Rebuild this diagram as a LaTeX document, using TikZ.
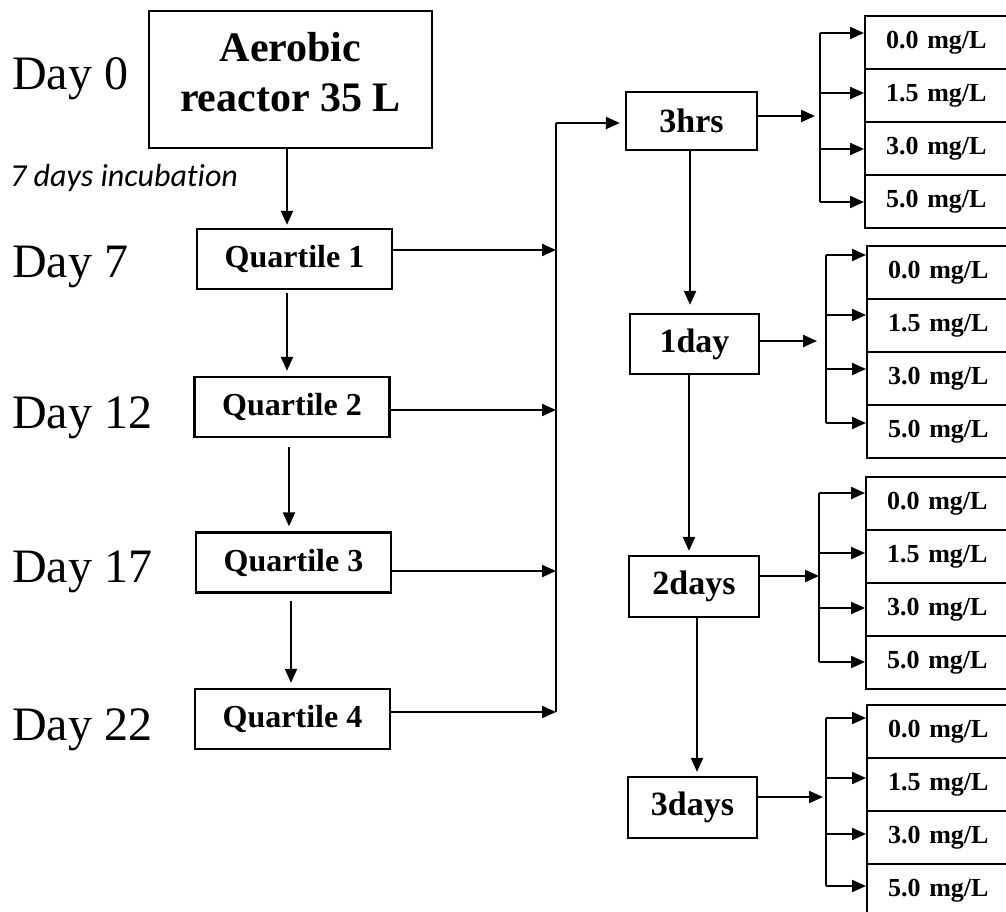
\documentclass[tikz,border=0pt]{standalone}
\usepackage{fontspec}
\setmainfont{Liberation Serif}
\newfontfamily\incfont[Ligatures=NoCommon]{Carlito}
\usetikzlibrary{arrows.meta}
\begin{document}
\begin{tikzpicture}[x=1pt,y=-1pt,
  box/.style={draw, line width=2.3pt, inner sep=0pt},
  qbox/.style={box, minimum width=195pt, minimum height=60pt,
    font=\bfseries\fontsize{32}{38}\selectfont},
  tbox/.style={box, minimum width=130pt, minimum height=60pt,
    font=\bfseries\fontsize{34}{40}\selectfont},
  mg/.style={box, anchor=north west, minimum width=160pt, minimum height=53pt,
    text width=118pt, inner xsep=21pt, align=left,
    font=\bfseries\fontsize{26}{30}\selectfont},
  day/.style={anchor=base west, inner sep=0pt, font=\fontsize{48}{52}\selectfont},
  arr/.style={line width=2.2pt, -{Triangle[length=14pt,width=12pt]}},
  link/.style={line width=1.8pt}
]
\useasboundingbox (0,0) rectangle (1006,912);
\fill[white] (0,0) rectangle (1006,912);

% day labels
\node[day] (day0) at (12,90) {Day 0};
\node[day] (day7) at (12,277) {Day 7};
\node[day] (day12) at (12,428) {Day 12};
\node[day] (day17) at (12,582) {Day 17};
\node[day] (day22) at (12,740) {Day 22};
\node[anchor=base west, inner sep=0pt, font=\incfont\itshape\fontsize{32}{36}\selectfont]
  (incub) at (10,187) {7 days incubation};

% reactor and quartiles
\node[box, line width=2.8pt, minimum width=283pt, minimum height=137pt] (aer) at (290.5,79.5) {};
\node[align=center, inner sep=0pt, font=\bfseries\fontsize{42}{50}\selectfont]
  (aerlbl) at (290.5,72) {Aerobic\\reactor 35 L};
\node[qbox] (q1) at (294.5,259) {Quartile 1};
\node[qbox] (q2) at (292,407) {Quartile 2};
\node[qbox] (q3) at (293.5,562.5) {Quartile 3};
\node[qbox] (q4) at (292.5,719) {Quartile 4};

\draw[arr, shorten >=3pt] (aer.south -| 287,0) -- (q1.north -| 287,0);
\draw[arr, shorten >=5pt, shorten <=3pt] (q1.south -| 287,0) -- (q2.north -| 287,0);
\draw[arr, shorten >=5pt, shorten <=9pt] (q2.south -| 289,0) -- (q3.north -| 289,0);
\draw[arr, shorten >=5pt, shorten <=7pt] (q3.south -| 291,0) -- (q4.north -| 291,0);

% collecting bus
\coordinate (bustop) at (556,123);
\coordinate (busbot) at (556,712);
\draw[arr] (q1.east |- 0,250) -- (bustop |- 0,250);
\draw[arr] (q2.east |- 0,410) -- (bustop |- 0,410);
\draw[arr] (q3.east |- 0,571) -- (bustop |- 0,571);
\draw[arr] (q4.east |- 0,712) -- (busbot);

% sampling times
\node[tbox, minimum width=131pt, minimum height=58pt] (h3) at (691.5,121) {3hrs};
\node[tbox, minimum width=129pt] (d1) at (694.5,344) {1day};
\node[tbox, minimum height=61pt] (d2) at (694,586.5) {2days};
\node[tbox, minimum width=129pt, minimum height=61pt] (d3) at (692.5,807.5) {3days};

\draw[link] (busbot) -- (bustop);
\draw[arr, shorten >=5pt] (bustop) -- (h3.west |- bustop);

\draw[arr, shorten >=8pt] (h3.south -| 690,0) -- (d1.north -| 690,0);
\draw[arr, shorten >=4pt] (d1.south -| 689,0) -- (d2.north -| 689,0);
\draw[arr, shorten >=4pt] (d2.south -| 697,0) -- (d3.north -| 697,0);

% concentration boxes
\foreach \g/\x/\t in {1/864/15, 2/866/245, 3/865/476, 4/866/704} {
  \foreach \v [count=\k from 0] in {0.0,1.5,3.0,5.0}
    \node[mg] (m\g-\k) at (\x, \t+53*\k) {\v\ mg/L};
}

% branching to concentrations
\foreach \g/\src/\bx/\yin/\ya/\yb/\yc/\yd/\sh in
  {1/h3/820/116/33/93/149/202/5, 2/d1/826/341/255/315/369/423/9,
   3/d2/819/576/493/553/608/662/0, 4/d3/826/797/718/778/834/886/3} {
  \coordinate (b\g) at (\bx,0);
  \draw[arr, shorten >=\sh pt] (\src.east |- 0,\yin) -- (b\g |- 0,\yin);
  \draw[link] (b\g |- 0,\ya) -- (b\g |- 0,\yd);
  \foreach \y [count=\k from 0] in {\ya,\yb,\yc,\yd}
    \draw[arr] (b\g |- 0,\y) -- (m\g-\k.west |- 0,\y);
}
\end{tikzpicture}
\end{document}
